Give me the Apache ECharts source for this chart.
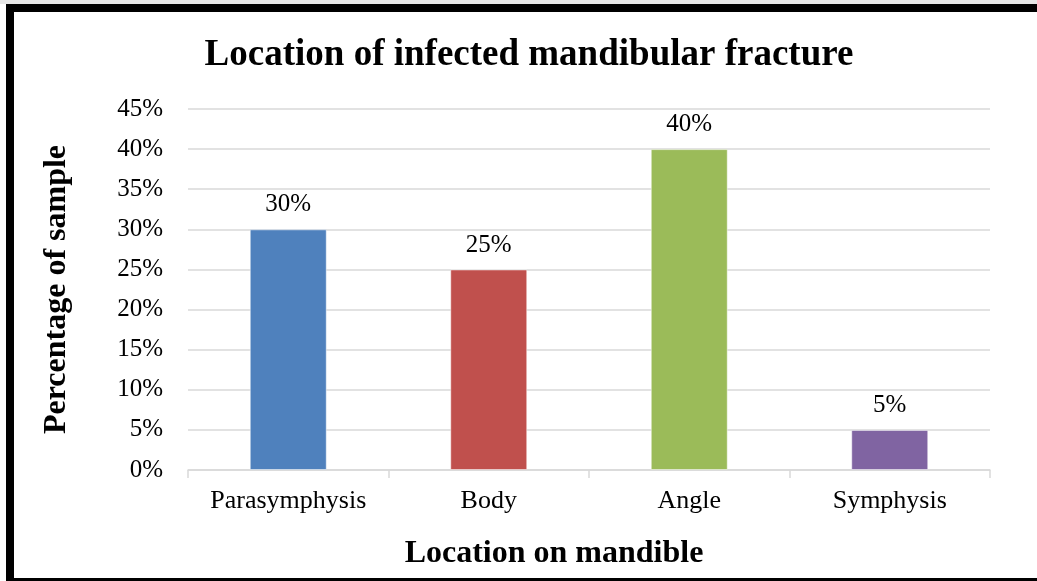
<!DOCTYPE html>
<html>
<head>
<meta charset="utf-8">
<script src="https://cdn.jsdelivr.net/npm/echarts@6/dist/echarts.min.js"></script>
<style>
html,body{margin:0;padding:0;background:#fff;}
#c{width:1037px;height:581px;}
</style>
</head>
<body>
<div id="c"></div>
<script>
const categories = ['Parasymphysis', 'Body', 'Angle', 'Symphysis'];
const values = [30, 25, 40, 5];
const colors = ['#4F81BD', '#C0504D', '#9BBB59', '#8064A2'];
const titleText = 'Location of infected mandibular fracture';
const yTitle = 'Percentage of sample';
const xTitle = 'Location on mandible';

const FONT = '"Liberation Serif", "Times New Roman", serif';
const chart = echarts.init(document.getElementById('c'), null, {renderer: 'canvas'});
chart.setOption({
  backgroundColor: '#fff',
  animation: false,
  title: {
    text: titleText,
    left: 524, top: 32, textAlign: 'center',
    textStyle: {fontFamily: FONT, fontWeight: 'bold', fontSize: 37, color: '#000'}
  },
  graphic: [
    {type: 'rect', shape: {x: 0, y: 0, width: 1037, height: 4}, style: {fill: '#e6e6e6'}},
    {type: 'rect', shape: {x: 6, y: 4, width: 1031, height: 8}, style: {fill: '#000'}},
    {type: 'rect', shape: {x: 6, y: 4, width: 8, height: 577}, style: {fill: '#000'}},
    {type: 'rect', shape: {x: 6, y: 578, width: 1031, height: 3}, style: {fill: '#000'}}
  ],
  grid: {left: 188, right: 47, top: 109, bottom: 111, containLabel: false, outerBoundsMode: 'none'},
  xAxis: {
    type: 'category',
    data: categories,
    name: xTitle,
    nameLocation: 'middle',
    nameGap: 68,
    nameTextStyle: {fontFamily: FONT, fontWeight: 'bold', fontSize: 32, color: '#000', padding: [0, 70, 0, 0]},
    axisLine: {show: true, lineStyle: {color: '#d9d9d9', width: 1.5}},
    axisTick: {show: true, interval: 0, length: 8, lineStyle: {color: '#d9d9d9', width: 1.5}},
    axisLabel: {interval: 0, fontFamily: FONT, fontSize: 26, color: '#000', margin: 18}
  },
  yAxis: {
    type: 'value',
    min: 0, max: 45, interval: 5,
    name: yTitle,
    nameLocation: 'middle',
    nameGap: 115,
    nameRotate: 90,
    nameTextStyle: {fontFamily: FONT, fontWeight: 'bold', fontSize: 32, color: '#000'},
    axisLine: {show: false},
    axisTick: {show: false},
    axisLabel: {formatter: '{value}%', fontFamily: FONT, fontSize: 25, color: '#000', margin: 25},
    splitLine: {lineStyle: {color: '#d9d9d9', width: 1.5}}
  },
  series: [{
    type: 'bar',
    data: values.map((v, i) => ({value: v, itemStyle: {color: colors[i]}})),
    barWidth: 77,
    itemStyle: {borderColor: 'rgba(255,255,255,0.5)', borderWidth: 1},
    label: {
      show: true, position: 'top', distance: 12,
      formatter: '{c}%',
      fontFamily: FONT, fontSize: 25, color: '#000'
    }
  }]
});
</script>
</body>
</html>
